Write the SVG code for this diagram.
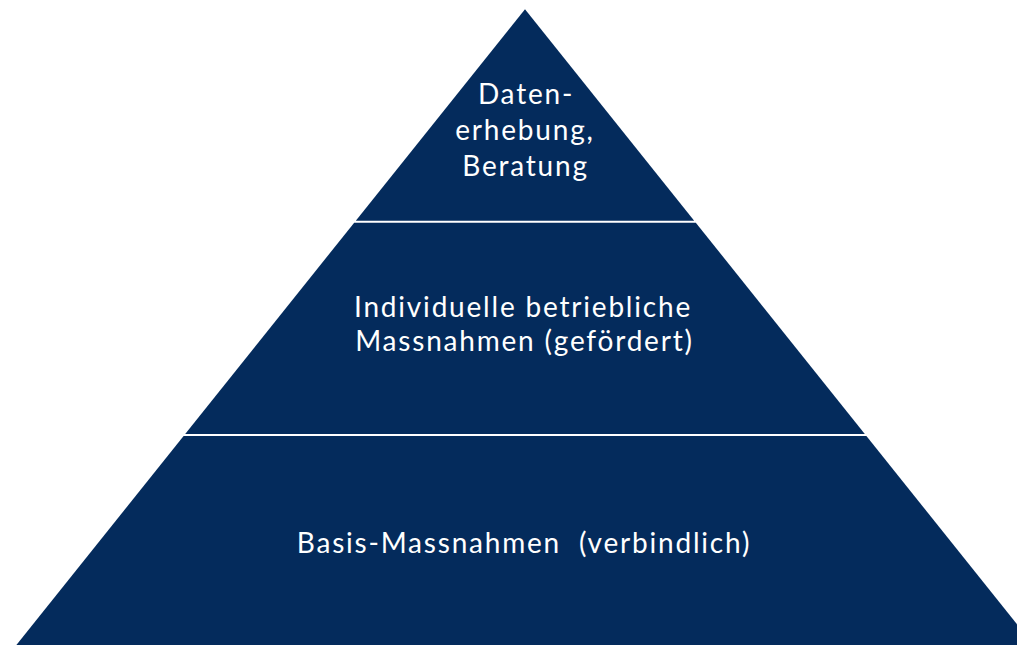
<svg xmlns="http://www.w3.org/2000/svg" width="1017" height="645" viewBox="0 0 1017 645">
  <style>
    .layer { fill: #042B5C; }
    .label { fill: #FFFFFF; font-family: Lato, "Open Sans", "Liberation Sans", sans-serif; font-size: 28px; letter-spacing: 1.8px; text-anchor: middle; white-space: pre; }
  </style>
  <rect width="1017" height="645" fill="#FFFFFF"/>
  <g id="layer-top">
    <polygon class="layer" points="525,9.2 694.2,220.7 355.8,220.7"/>
    <text class="label"><tspan x="526" y="104">Daten-</tspan><tspan x="525" y="140">erhebung,</tspan><tspan x="525.5" y="176">Beratung</tspan></text>
  </g>
  <g id="layer-middle">
    <polygon class="layer" points="354.2,222.7 695.8,222.7 864.8,434 185.2,434"/>
    <text class="label"><tspan x="523" y="317">Individuelle betriebliche</tspan><tspan x="524.5" y="351">Massnahmen (gefördert)</tspan></text>
  </g>
  <g id="layer-bottom">
    <polygon class="layer" points="183.6,436 866.4,436 1033.6,645 16.4,645"/>
    <text class="label" x="524" y="553" xml:space="preserve">Basis-Massnahmen  (verbindlich)</text>
  </g>
  <g id="connectors"/>
</svg>
